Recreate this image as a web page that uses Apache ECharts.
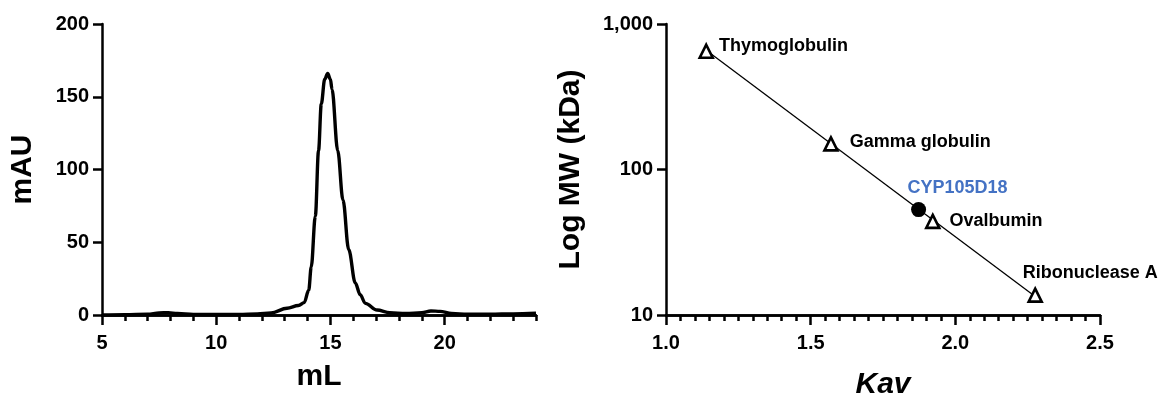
<!DOCTYPE html>
<html>
<head>
<meta charset="utf-8">
<script src="https://cdn.jsdelivr.net/npm/echarts@6/dist/echarts.min.js"></script>
<style>
  html, body {margin: 0; padding: 0; background: #fff;}
  #chart {width: 1163px; height: 396px;}
</style>
</head>
<body>
<div id="chart"></div>
<script>
// chromatogram (left panel)
const volume = [5.0, 6.0, 7.0, 7.5, 7.9, 8.3, 9.0, 10.0, 11.0, 11.8, 12.4, 13.1, 13.6, 13.85,
  14.05, 14.16, 14.34, 14.48, 14.6, 14.75, 14.88, 15.0, 15.07, 15.32, 15.55, 15.8, 16.09, 16.3,
  16.53, 17.04, 17.6, 18.3, 19.0, 19.4, 19.8, 20.3, 21.0, 22.0, 23.0, 24.0];
const absorbance = [0, 0.2, 0.5, 1.4, 1.6, 1.0, 0.4, 0.3, 0.4, 0.8, 1.4, 4.6, 6.5, 8.5,
  17, 33, 68, 113, 145, 162, 166, 162, 155, 113, 79, 45, 22, 14,
  8, 3.4, 1.5, 1.0, 1.6, 2.8, 2.5, 1.0, 0.5, 0.5, 0.8, 1.2];

// calibration (right panel)
const standards = ['Thymoglobulin', 'Gamma globulin', 'Ovalbumin', 'Ribonuclease A'];
const stdKav = [1.139, 1.570, 1.922, 2.276];
const stdMw = [650, 150, 44, 13.7];
const sampleName = 'CYP105D18';
const sampleKav = 1.873;
const sampleMw = 53;
const fitKav = [1.139, 2.276];
const fitMw = [660, 13.4];

const FONT = '"Liberation Sans", Arial, sans-serif';
const chart = echarts.init(document.getElementById('chart'));

const line = {show: true, onZero: false, lineStyle: {color: '#000', width: 2.5}};
const tickLbl = {color: '#000', fontSize: 20, fontWeight: 'bold', fontFamily: FONT};
const nameTxt = {color: '#000', fontSize: 30, fontWeight: 'bold', fontFamily: FONT};

// label placement for each standard, same order as standards
const stdLabelPos = [
  {position: 'right', offset: [0, -5]},
  {position: 'right', offset: [6, -2]},
  {position: 'right', offset: [4, 0]},
  {position: 'top', offset: [55, 0]},
];

chart.setOption({
  backgroundColor: '#fff',
  animation: false,
  grid: [
    {left: 102, top: 24, width: 434, height: 291, outerBoundsMode: 'none'},
    {left: 666, top: 24, width: 434, height: 291, outerBoundsMode: 'none'},
  ],
  xAxis: [
    {
      gridIndex: 0, type: 'value', position: 'bottom', min: 5, max: 24, interval: 5,
      axisLine: line,
      axisTick: {length: 10, lineStyle: {width: 2.5, color: '#000'}},
      axisLabel: {...tickLbl, margin: 18, showMaxLabel: false},
      splitLine: {show: false},
      name: 'mL', nameLocation: 'middle', nameGap: 47, nameTextStyle: nameTxt,
    },
    {
      gridIndex: 0, type: 'value', position: 'bottom', min: 5, max: 24, interval: 1,
      axisLine: line,
      axisTick: {length: 6, lineStyle: {width: 2.5, color: '#000'}},
      axisLabel: {show: false},
      splitLine: {show: false},
    },
    {
      gridIndex: 1, type: 'value', position: 'bottom', min: 1, max: 2.5, interval: 0.5,
      axisLine: line,
      axisTick: {length: 10, lineStyle: {width: 2.5, color: '#000'}},
      axisLabel: {...tickLbl, margin: 18, formatter: v => v.toFixed(1)},
      splitLine: {show: false},
      name: 'Kav', nameLocation: 'middle', nameGap: 55,
      nameTextStyle: {...nameTxt, fontStyle: 'italic'},
    },
    {
      gridIndex: 1, type: 'value', position: 'bottom', min: 1, max: 2.5, interval: 0.05,
      axisLine: line,
      axisTick: {length: 6, lineStyle: {width: 2.5, color: '#000'}},
      axisLabel: {show: false},
      splitLine: {show: false},
    },
  ],
  yAxis: [
    {
      gridIndex: 0, type: 'value', min: 0, max: 200, interval: 50,
      axisLine: line,
      axisTick: {length: 9, lineStyle: {width: 2.5, color: '#000'}},
      axisLabel: {...tickLbl, margin: 13},
      splitLine: {show: false},
      name: 'mAU', nameLocation: 'middle', nameGap: 64, nameTextStyle: nameTxt,
    },
    {
      gridIndex: 1, type: 'log', logBase: 10, min: 10, max: 1000,
      axisLine: line,
      axisTick: {length: 9, lineStyle: {width: 2.5, color: '#000'}},
      axisLabel: {...tickLbl, margin: 13, formatter: v => v.toLocaleString('en-US')},
      splitLine: {show: false},
      minorTick: {show: false},
      name: 'Log MW (kDa)', nameLocation: 'middle', nameGap: 80, nameTextStyle: nameTxt,
    },
  ],
  series: [
    {
      type: 'line', xAxisIndex: 0, yAxisIndex: 0,
      data: volume.map((v, i) => [v, absorbance[i]]),
      showSymbol: false, smooth: 0.35, smoothMonotone: 'x',
      lineStyle: {color: '#000', width: 3.4},
    },
    {
      type: 'line', xAxisIndex: 2, yAxisIndex: 1,
      data: fitKav.map((v, i) => [v, fitMw[i]]),
      showSymbol: false,
      lineStyle: {color: '#000', width: 1.3},
      z: 1,
    },
    {
      type: 'scatter', xAxisIndex: 2, yAxisIndex: 1,
      symbol: 'triangle', symbolSize: 13,
      itemStyle: {color: '#fff', borderColor: '#000', borderWidth: 2.6, opacity: 1},
      label: {show: true, formatter: p => p.name, color: '#000', fontSize: 18, fontWeight: 'bold', fontFamily: FONT},
      data: standards.map((n, i) => ({name: n, value: [stdKav[i], stdMw[i]], label: stdLabelPos[i]})),
      z: 3,
    },
    {
      type: 'scatter', xAxisIndex: 2, yAxisIndex: 1,
      symbol: 'circle', symbolSize: 15,
      itemStyle: {color: '#000', opacity: 1},
      label: {show: true, position: 'top', offset: [39, 0], formatter: p => p.name,
        color: '#4472C4', fontSize: 18, fontWeight: 'bold', fontFamily: FONT},
      data: [{name: sampleName, value: [sampleKav, sampleMw]}],
      z: 4,
    },
  ],
});
</script>
</body>
</html>
